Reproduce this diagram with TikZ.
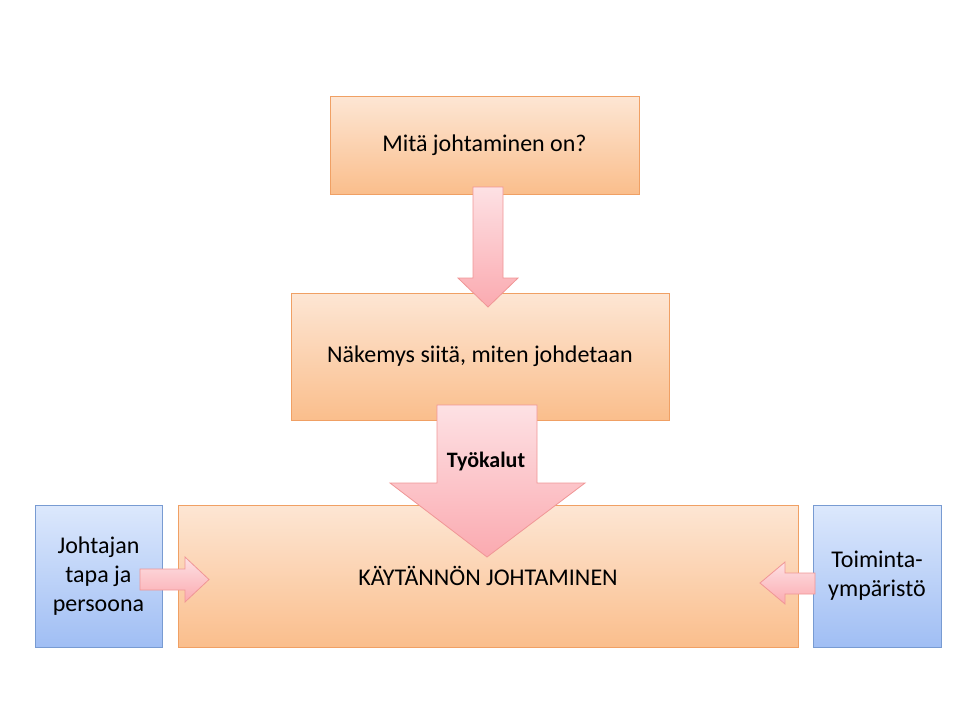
\documentclass[tikz,border=0pt]{standalone}
\usepackage{fontspec}
\setmainfont{Carlito}
\definecolor{otop}{RGB}{253,230,212}
\definecolor{obot}{RGB}{250,190,140}
\definecolor{oedge}{RGB}{240,160,100}
\definecolor{btop}{RGB}{220,232,252}
\definecolor{bbot}{RGB}{160,190,244}
\definecolor{bedge}{RGB}{120,155,210}
\definecolor{ptop}{RGB}{253,225,228}
\definecolor{pbot}{RGB}{251,170,176}
\definecolor{pedge}{RGB}{240,150,150}
\begin{document}
\begin{tikzpicture}[x=1pt,y=-1pt,
  obox/.style={draw=oedge, line width=0.8pt, top color=otop, bottom color=obot, inner sep=0pt, font=\fontsize{24}{28}\selectfont, align=center},
  bbox/.style={draw=bedge, line width=0.8pt, top color=btop, bottom color=bbot, inner sep=0pt, font=\fontsize{24}{29}\selectfont, align=center},
  parrow/.style={draw=pedge, line width=0.8pt, top color=ptop, bottom color=pbot}]
\useasboundingbox (0,0) rectangle (960,720);
\node[obox, minimum width=309pt, minimum height=98pt] (top) at (484.5,145) {Mitä johtaminen on?};
\node[obox, minimum width=378pt, minimum height=127pt] (mid) at (480,356.5) {Näkemys siitä, miten johdetaan};
\node[obox, minimum width=620pt, minimum height=142pt] (main) at (488,576) {KÄYTÄNNÖN JOHTAMINEN};
\node[bbox, minimum width=127pt, minimum height=142pt] (left) at (98.5,576) {Johtajan\\tapa ja\\persoona};
\node[bbox, minimum width=128pt, minimum height=142pt] (right) at (877,576) {Toiminta-\\ympäristö};
\path[parrow] (473,187) -- (503,187) -- (503,278) -- (518,278) -- (488,307) -- (458,278) -- (473,278) -- cycle;
\path[parrow] (437,405) -- (537,405) -- (537,483) -- (585,483) -- (487,557) -- (390,483) -- (437,483) -- cycle;
\node[font=\bfseries\fontsize{22}{26}\selectfont] (tk) at (486,462) {Työkalut};
\path[parrow] (140,569) -- (185,569) -- (185,557) -- (209,579.5) -- (185,602) -- (185,590) -- (140,590) -- cycle;
\path[parrow] (815,573) -- (785,573) -- (785,562) -- (760,583) -- (785,604) -- (785,594) -- (815,594) -- cycle;
\end{tikzpicture}
\end{document}
